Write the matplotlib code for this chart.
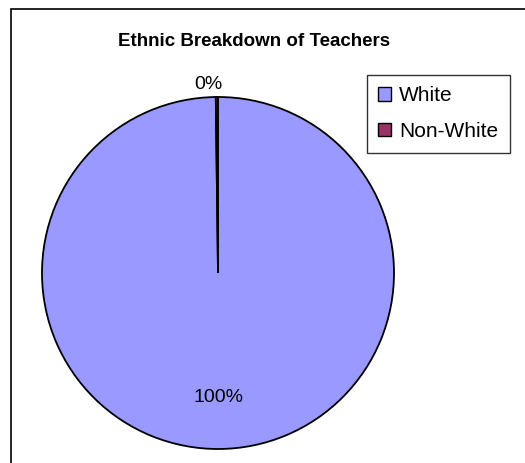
import matplotlib
matplotlib.use("Agg")
import matplotlib.pyplot as plt
from matplotlib.patches import Rectangle, Patch
import numpy as np

categories = ["White", "Non-White"]
values = [99.8, 0.2]
labels = ["100%", "0%"]
colors = ["#9999FF", "#993366"]

plt.rcParams["font.family"] = ["Liberation Sans", "DejaVu Sans"]

W, H = 525, 463
fig = plt.figure(figsize=(W / 100, H / 100), dpi=100)

# outer chart frame (runs off the right and bottom edges)
fig.add_artist(Rectangle((11 / W, -0.05), 1.2, (H - 9) / H + 0.05,
                         transform=fig.transFigure, fill=False,
                         edgecolor="black", linewidth=1.2))

cx, cy, r = 218, 273, 176
ax = fig.add_axes([(cx - r) / W, (H - cy - r) / H, 2 * r / W, 2 * r / H])
wedges, _ = ax.pie(values, colors=colors, startangle=90, counterclock=False,
                   wedgeprops=dict(edgecolor="black", linewidth=1.3))
ax.set_xlim(-1, 1)
ax.set_ylim(-1, 1)

# data labels: big slice inside, small slice just outside
for w, lab, v in zip(wedges, labels, values):
    mid = np.deg2rad((w.theta1 + w.theta2) / 2)
    if v > 50:
        d = 0.705
        ax.text(d * np.cos(mid), d * np.sin(mid), lab, ha="center",
                va="center", fontsize=14)
    else:
        ax.text(-0.057, 1.07, lab, ha="center", va="center", fontsize=14)

fig.text(254 / W, 1 - 41 / H, "Ethnic Breakdown of Teachers",
         ha="center", va="center", fontsize=13.5, fontweight="bold")

handles = [Patch(facecolor=c, edgecolor="black", linewidth=1) for c in colors]
leg = fig.legend(handles, categories, loc="upper left",
                 bbox_to_anchor=(367 / W, 1 - 75 / H), fontsize=15,
                 frameon=True, fancybox=False, handlelength=0.6,
                 handleheight=0.6, handletextpad=0.4, labelspacing=0.8,
                 borderpad=0.55, borderaxespad=0)
leg.get_frame().set_edgecolor("black")
leg.get_frame().set_linewidth(1)
leg.get_frame().set_boxstyle("square", pad=0)

fig.savefig("out.png", dpi=100)
